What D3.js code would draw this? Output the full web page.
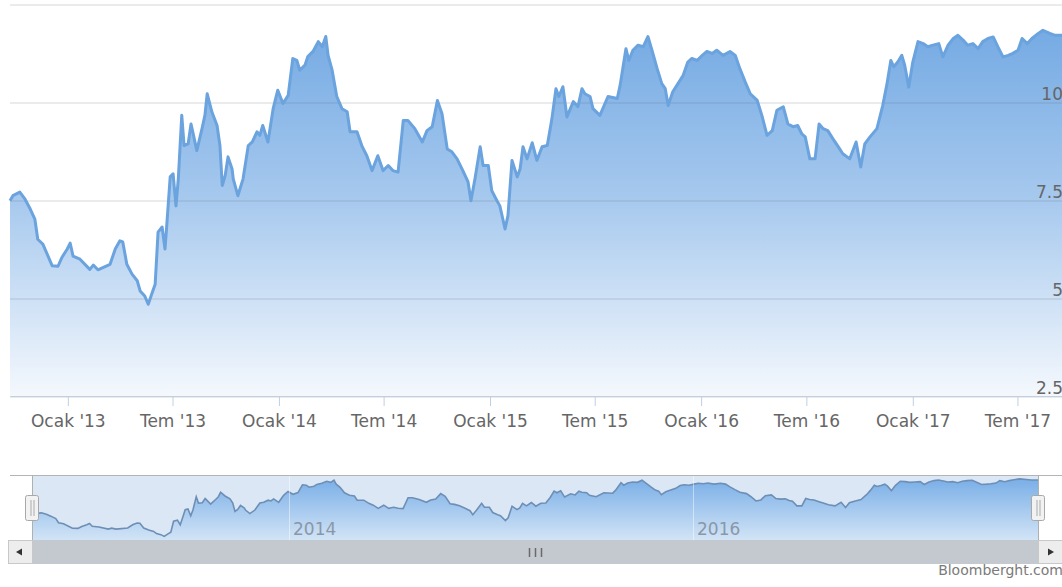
<!DOCTYPE html>
<html>
<head>
<meta charset="utf-8">
<script src="https://cdn.jsdelivr.net/npm/d3@7"></script>
<style>
	body { margin: 0; background: #fff; }
	text { font-family: "DejaVu Sans", sans-serif; }
</style>
</head>
<body>
<script>
//dates and closing values
var dates = [
	"2012-09-23","2012-09-28","2012-10-10","2012-10-19","2012-10-28","2012-11-05","2012-11-10","2012-11-19","2012-12-05","2012-12-15",
	"2012-12-22","2012-12-31","2013-01-05","2013-01-10","2013-01-22","2013-02-08","2013-02-14","2013-02-22","2013-03-15","2013-03-24",
	"2013-04-01","2013-04-06","2013-04-13","2013-04-22","2013-05-01","2013-05-06","2013-05-14","2013-05-20","2013-05-27","2013-06-01",
	"2013-06-06","2013-06-13","2013-06-18","2013-06-21","2013-06-27","2013-07-02","2013-07-07","2013-07-11","2013-07-17","2013-07-21",
	"2013-07-28","2013-08-02","2013-08-05","2013-08-12","2013-08-21","2013-08-26","2013-08-30","2013-09-07","2013-09-16","2013-09-21",
	"2013-09-25","2013-09-30","2013-10-05","2013-10-12","2013-10-14","2013-10-22","2013-10-31","2013-11-09","2013-11-16","2013-11-24",
	"2013-11-29","2013-12-04","2013-12-13","2013-12-22","2013-12-30","2014-01-08","2014-01-17","2014-01-25","2014-02-01","2014-02-06",
	"2014-02-15","2014-02-20","2014-03-01","2014-03-10","2014-03-17","2014-03-23","2014-03-27","2014-04-03","2014-04-11","2014-04-20",
	"2014-04-29","2014-05-04","2014-05-16","2014-05-25","2014-06-02","2014-06-11","2014-06-21","2014-06-30","2014-07-09","2014-07-17",
	"2014-07-26","2014-08-04","2014-08-12","2014-08-24","2014-09-06","2014-09-14","2014-09-23","2014-10-02","2014-10-10","2014-10-19",
	"2014-10-27","2014-11-05","2014-11-15","2014-11-24","2014-11-29","2014-12-06","2014-12-15","2014-12-20","2014-12-29","2015-01-04",
	"2015-01-13","2015-01-18","2015-01-27","2015-02-01","2015-02-08","2015-02-17","2015-02-22","2015-02-27","2015-03-06","2015-03-15",
	"2015-03-23","2015-04-01","2015-04-10","2015-04-18","2015-04-25","2015-04-30","2015-05-07","2015-05-14","2015-05-25","2015-06-02",
	"2015-06-09","2015-06-14","2015-06-23","2015-06-28","2015-07-10","2015-07-24","2015-08-09","2015-08-14","2015-08-24","2015-08-29",
	"2015-09-05","2015-09-14","2015-09-23","2015-10-01","2015-10-08","2015-10-17","2015-10-25","2015-10-31","2015-11-05","2015-11-13",
	"2015-11-22","2015-12-01","2015-12-09","2015-12-16","2015-12-25","2016-01-03","2016-01-11","2016-01-20","2016-01-28","2016-02-08",
	"2016-02-20","2016-02-29","2016-03-08","2016-03-17","2016-03-26","2016-04-07","2016-04-15","2016-04-24","2016-05-03","2016-05-11",
	"2016-05-22","2016-05-30","2016-06-08","2016-06-16","2016-06-23","2016-06-29","2016-07-07","2016-07-16","2016-07-23","2016-07-30",
	"2016-08-07","2016-08-16","2016-08-25","2016-09-02","2016-09-14","2016-09-25","2016-10-03","2016-10-10","2016-10-19","2016-10-31",
	"2016-11-10","2016-11-17","2016-11-24","2016-11-29","2016-12-06","2016-12-13","2016-12-18","2016-12-25","2017-01-01","2017-01-10",
	"2017-01-19","2017-01-27","2017-02-05","2017-02-15","2017-02-22","2017-03-03","2017-03-12","2017-03-20","2017-03-29","2017-04-06",
	"2017-04-15","2017-04-24","2017-05-02","2017-05-11","2017-05-20","2017-05-28","2017-06-06","2017-06-15","2017-06-23","2017-07-02",
	"2017-07-09","2017-07-18","2017-07-26","2017-08-06","2017-08-14","2017-08-26","2017-09-04","2017-09-16"
];
var values = [
	7.48, 7.61, 7.70, 7.52, 7.27, 7.01, 6.50, 6.37, 5.82, 5.81,
	6.04, 6.25, 6.40, 6.07, 5.99, 5.73, 5.84, 5.72, 5.86, 6.25,
	6.46, 6.43, 5.86, 5.61, 5.44, 5.18, 5.05, 4.84, 5.14, 5.35,
	6.68, 6.81, 6.25, 6.84, 8.09, 8.17, 7.35, 8.04, 9.66, 8.89,
	8.93, 9.44, 9.24, 8.76, 9.32, 9.66, 10.21, 9.75, 9.40, 8.89,
	7.87, 8.12, 8.60, 8.29, 8.04, 7.61, 8.04, 8.89, 8.98, 9.24,
	9.15, 9.40, 8.98, 9.83, 10.30, 9.96, 10.17, 11.11, 11.06, 10.81,
	10.94, 11.16, 11.29, 11.54, 11.41, 11.67, 11.19, 10.81, 10.14, 9.83,
	9.75, 9.24, 9.24, 8.86, 8.63, 8.25, 8.63, 8.25, 8.38, 8.25,
	8.21, 9.53, 9.53, 9.32, 8.98, 9.27, 9.37, 10.04, 9.70, 8.80,
	8.73, 8.55, 8.25, 7.96, 7.48, 8.04, 8.86, 8.38, 8.38, 7.74,
	7.48, 7.35, 6.76, 7.10, 8.51, 8.09, 8.29, 8.86, 8.55, 8.96,
	8.51, 8.86, 8.89, 9.57, 10.34, 10.14, 10.39, 9.62, 10.01, 9.88,
	10.34, 10.21, 10.14, 9.83, 9.66, 10.14, 10.09, 10.43, 11.36, 11.06,
	11.32, 11.45, 11.41, 11.67, 11.32, 10.85, 10.47, 10.34, 9.91, 10.26,
	10.47, 10.68, 11.02, 11.11, 11.06, 11.19, 11.29, 11.24, 11.32, 11.19,
	11.29, 11.19, 10.85, 10.52, 10.21, 10.04, 9.66, 9.15, 9.27, 9.79,
	9.88, 9.44, 9.37, 9.40, 9.19, 9.11, 8.55, 8.55, 9.44, 9.32,
	9.27, 9.06, 8.86, 8.68, 8.55, 8.98, 8.34, 8.93, 9.11, 9.32,
	9.91, 10.43, 11.06, 10.90, 11.02, 11.19, 10.94, 10.38, 11.02, 11.54,
	11.49, 11.41, 11.45, 11.49, 11.15, 11.45, 11.62, 11.70, 11.58, 11.45,
	11.49, 11.36, 11.54, 11.62, 11.66, 11.41, 11.15, 11.19, 11.24, 11.32,
	11.62, 11.49, 11.62, 11.75, 11.83, 11.75, 11.70, 11.70
];

//axis ticks
var xTickDates = ["2013-01-01","2013-07-01","2014-01-01","2014-07-01","2015-01-01","2015-07-01","2016-01-01","2016-07-01","2017-01-01","2017-07-01"];
var xTickLabels = ["Ocak '13","Tem '13","Ocak '14","Tem '14","Ocak '15","Tem '15","Ocak '16","Tem '16","Ocak '17","Tem '17"];
var yTicks = [2.5, 5, 7.5, 10, 12.5];
var yTickLabels = ["2.5", "5", "7.5", "10", ""];
var navTickDates = ["2014-01-01", "2016-01-01"];
var navTickLabels = ["2014", "2016"];

window.onload = function(){

	var w = 1062, h = 587;
	var parse = d3.timeParse("%Y-%m-%d");

	var points = dates.map(function(d, i){
		return { date: parse(d), value: values[i] };
	});

	var svg = d3.select("body")
		.append("svg")
		.attr("width", w)
		.attr("height", h);

	var defs = svg.append("defs");

	//main area gradient
	var g1 = defs.append("linearGradient")
		.attr("id", "mainFill")
		.attr("gradientUnits", "userSpaceOnUse")
		.attr("x1", 0).attr("x2", 0)
		.attr("y1", 5).attr("y2", 396);
	g1.append("stop").attr("offset", 0).attr("stop-color", "#6ea6e2");
	g1.append("stop").attr("offset", 0.5).attr("stop-color", "#a7c9ee");
	g1.append("stop").attr("offset", 1).attr("stop-color", "#f4f8fd");

	//navigator gradient
	var g2 = defs.append("linearGradient")
		.attr("id", "navFill")
		.attr("gradientUnits", "userSpaceOnUse")
		.attr("x1", 0).attr("x2", 0)
		.attr("y1", 475).attr("y2", 540);
	g2.append("stop").attr("offset", 0).attr("stop-color", "#74abe6");
	g2.append("stop").attr("offset", 1).attr("stop-color", "#d2e4f6");

	//scales
	var x = d3.scaleTime()
		.domain(d3.extent(points, function(d){ return d.date; }))
		.range([10, 1062]);

	var y = d3.scaleLinear()
		.domain([2.5, 12.5])
		.range([396, 4]);

	//area and line
	var area = d3.area()
		.x(function(d){ return x(d.date); })
		.y0(y(2.5))
		.y1(function(d){ return y(d.value); });

	var line = d3.line()
		.x(function(d){ return x(d.date); })
		.y(function(d){ return y(d.value); });

	svg.append("path")
		.datum(points)
		.attr("d", area)
		.style("fill", "url(#mainFill)");

	//horizontal grid lines with right hand labels
	var yAxis = d3.axisRight(y)
		.tickValues(yTicks)
		.tickSize(1053)
		.tickFormat(function(d, i){ return yTickLabels[i]; });

	var yg = svg.append("g")
		.attr("class", "yaxis")
		.attr("transform", "translate(10, 0)")
		.call(yAxis);
	yg.select(".domain").remove();
	yg.selectAll("line")
		.style("stroke", "rgba(95,110,125,0.28)")
		.attr("y1", 0.5).attr("y2", 0.5);
	yg.selectAll("text")
		.attr("x", 1053)
		.attr("dy", -3)
		.attr("text-anchor", "end")
		.style("font-size", "17px")
		.style("fill", "#666");

	svg.append("path")
		.datum(points)
		.attr("d", line)
		.style("fill", "none")
		.style("stroke", "#6aa3de")
		.style("stroke-width", 3)
		.style("stroke-linejoin", "round");

	//bottom axis
	var xAxis = d3.axisBottom(x)
		.tickValues(xTickDates.map(parse))
		.tickFormat(function(d, i){ return xTickLabels[i]; })
		.tickSizeInner(10)
		.tickSizeOuter(0)
		.tickPadding(9);

	var xg = svg.append("g")
		.attr("class", "xaxis")
		.attr("transform", "translate(0, 396)")
		.call(xAxis);
	xg.select(".domain").style("stroke", "#c0d0e0");
	xg.selectAll("line").style("stroke", "#c0d0e0");
	xg.selectAll("text")
		.style("font-size", "17px")
		.style("fill", "#666");

	//navigator
	var xNav = d3.scaleTime()
		.domain(x.domain())
		.range([32, 1038]);

	var yNav = d3.scaleLinear()
		.domain([4.4, 12.3])
		.range([540, 475]);

	svg.append("rect")
		.attr("x", 32).attr("y", 475)
		.attr("width", 1006).attr("height", 65)
		.style("fill", "#dbe7f5");

	var navArea = d3.area()
		.x(function(d){ return xNav(d.date); })
		.y0(540)
		.y1(function(d){ return yNav(d.value); });

	var navLine = d3.line()
		.x(function(d){ return xNav(d.date); })
		.y(function(d){ return yNav(d.value); });

	svg.append("path")
		.datum(points)
		.attr("d", navArea)
		.style("fill", "url(#navFill)");

	svg.append("path")
		.datum(points)
		.attr("d", navLine)
		.style("fill", "none")
		.style("stroke", "#6d8fb6")
		.style("stroke-width", 1.6);

	//navigator year lines and labels
	var navTicks = svg.selectAll(".navTick")
		.data(navTickDates)
		.enter()
		.append("g")
		.attr("class", "navTick")
		.attr("transform", function(d){ return "translate(" + Math.round(xNav(parse(d))) + ",0)"; });

	navTicks.append("line")
		.attr("x1", 0.5).attr("x2", 0.5)
		.attr("y1", 475).attr("y2", 540)
		.style("stroke", "rgba(255,255,255,0.45)");

	navTicks.append("text")
		.attr("x", 4)
		.attr("y", 535)
		.style("font-size", "17px")
		.style("fill", "#8a97a8")
		.text(function(d, i){ return navTickLabels[i]; });

	//navigator outline
	svg.append("line")
		.attr("x1", 10).attr("x2", 1062)
		.attr("y1", 475.5).attr("y2", 475.5)
		.style("stroke", "#b4b4b4");

	[32, 1038].forEach(function(px){
		svg.append("line")
			.attr("x1", px + 0.5).attr("x2", px + 0.5)
			.attr("y1", 475).attr("y2", 540)
			.style("stroke", "#b0b0b0");
	});

	//scrollbar
	svg.append("rect")
		.attr("x", 8).attr("y", 540)
		.attr("width", 1054).attr("height", 24)
		.style("fill", "#c4c9cf");

	var buttons = [
		{ x: 8.5, arrow: "M16,552L22,548.5L22,555.5Z" },
		{ x: 1038.5, arrow: "M1054,552L1048,548.5L1048,555.5Z" }
	];
	buttons.forEach(function(b){
		svg.append("rect")
			.attr("x", b.x).attr("y", 540.5)
			.attr("width", 24).attr("height", 23)
			.style("fill", "#ededed")
			.style("stroke", "#c8c8c8");
		svg.append("path")
			.attr("d", b.arrow)
			.style("fill", "#333");
	});

	//scrollbar grip
	[529.5, 535.5, 541.5].forEach(function(px){
		svg.append("line")
			.attr("x1", px).attr("x2", px)
			.attr("y1", 548).attr("y2", 557)
			.style("stroke", "#6b6b6b")
			.style("stroke-width", 1.5);
	});

	//navigator handles
	[32, 1038].forEach(function(cx){
		svg.append("rect")
			.attr("x", cx - 6.5).attr("y", 495.5)
			.attr("width", 13).attr("height", 25)
			.attr("rx", 2)
			.style("fill", "#f2f2f2")
			.style("stroke", "#a8a8a8");
		[-1.5, 1.5].forEach(function(dx){
			svg.append("line")
				.attr("x1", cx + dx + 0.5).attr("x2", cx + dx + 0.5)
				.attr("y1", 500).attr("y2", 516)
				.style("stroke", "#aaa");
		});
	});

	//source credit
	svg.append("text")
		.attr("x", 1063)
		.attr("y", 575)
		.attr("text-anchor", "end")
		.style("font-size", "14px")
		.style("fill", "#7a7a7a")
		.text("Bloomberght.com");
};
</script>
</body>
</html>
